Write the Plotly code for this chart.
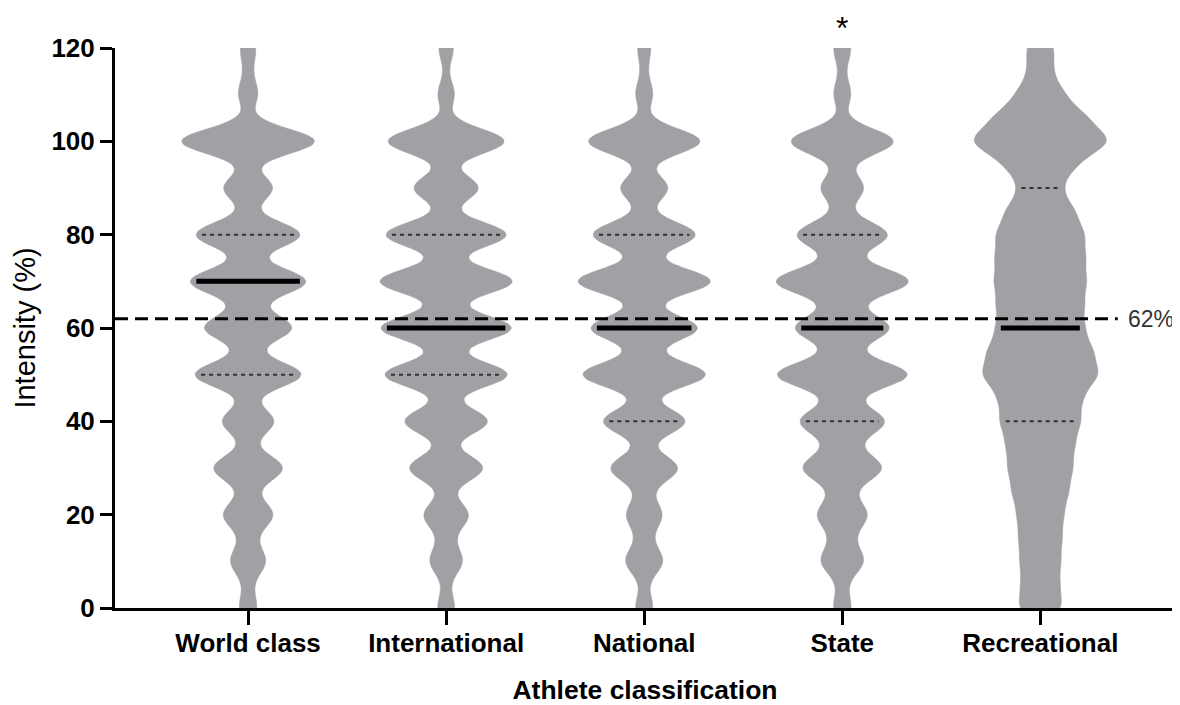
import numpy as np
import plotly.graph_objects as go

# ---------------- data ----------------
categories = ["World class", "International", "National", "State", "Recreational"]

# intensity levels (%) at which responses were given
levels = list(range(0, 125, 5))

# estimated number of responses at each level (0, 5, 10, ... 120)
counts_world_class   = [8, 3, 16, 5, 23, 4, 33, 2, 25, 1, 52, 2, 42, 5, 56, 2, 51, 1, 24, 0, 66, 0, 9, 3, 7]
counts_international = [8, 2, 15, 5, 21, 2, 36, 1, 41, 0, 61, 0, 65, 0, 66, 0, 60, 0, 32, 0, 58, 0, 8, 1, 7]
counts_national      = [8, 2, 17, 5, 16, 4, 32, 1, 40, 0, 60, 2, 52, 0, 65, 1, 50, 1, 23, 0, 55, 0, 8, 2, 6]
counts_state         = [8, 3, 19, 8, 22, 7, 36, 9, 39, 6, 62, 6, 44, 7, 63, 6, 43, 3, 20, 3, 50, 0, 8, 2, 8]
counts_recreational  = [17, 14, 15, 16, 17, 21, 24, 25, 30, 30, 44, 39, 32, 32, 34, 33, 33, 26, 15, 26, 54, 35, 18, 9, 11]

medians = [70, 60, 60, 60, 60]
q1 = [50, 50, 40, 40, 40]
q3 = [80, 80, 80, 80, 90]

reference_value = 62
reference_label = "62%"
significant = ["State"]

y_ticks = [0, 20, 40, 60, 80, 100, 120]

# ---------------- style ----------------
BW = 2.7            # KDE bandwidth
VIOLIN_W = 0.667    # full violin width (category units)
INSET = 0.03        # quartile lines stop a little inside the outline
GREY = "#a1a1a5"
FONT = "Liberation Sans, Arial, sans-serif"

all_counts = [counts_world_class, counts_international, counts_national,
              counts_state, counts_recreational]


def half_width(samples, y):
    """Violin half-width at value y, same Gaussian KDE / scaling as plotly's violin."""
    s0, s1 = samples.min(), samples.max()
    n = int(np.ceil((s1 - s0) / (BW / 3.0)))
    grid = np.linspace(s0, s1, n + 1)

    def kde(t):
        t = np.atleast_1d(np.asarray(t, dtype=float))
        return np.exp(-0.5 * ((t[:, None] - samples[None, :]) / BW) ** 2).sum(axis=1)

    return (VIOLIN_W / 2.0) * kde(y)[0] / kde(grid).max()


fig = go.Figure()

for i, (cat, counts) in enumerate(zip(categories, all_counts)):
    samples = np.repeat(np.array(levels, dtype=float), counts)
    fig.add_trace(go.Violin(
        x0=i, y=samples, name=cat,
        bandwidth=BW, spanmode="hard", scalemode="width", scalegroup=cat,
        width=VIOLIN_W, side="both", points=False,
        box_visible=False, meanline_visible=False,
        fillcolor=GREY, line=dict(color=GREY, width=0.5),
        opacity=1, hoverinfo="skip", showlegend=False,
    ))

    # quartiles (dotted) and median (thick)
    for val, style in [(q1[i], "q"), (q3[i], "q"), (medians[i], "m")]:
        hw = half_width(samples, val) - INSET
        if style == "m":
            line = dict(color="black", width=5)
        else:
            line = dict(color="#333333", width=2, dash="4px,4px")
        fig.add_trace(go.Scatter(
            x=[i - hw, i + hw], y=[val, val], mode="lines", line=line,
            hoverinfo="skip", showlegend=False,
        ))

# reference line at 62 %
fig.add_shape(type="line", xref="paper", yref="y", x0=0, x1=0.946,
              y0=reference_value, y1=reference_value,
              line=dict(color="black", width=3, dash="13px,7px"), layer="above")
fig.add_annotation(xref="paper", yref="y", x=0.9545, y=reference_value,
                   xanchor="left", yanchor="middle", text=reference_label,
                   showarrow=False, borderpad=0,
                   font=dict(family=FONT, size=23, color="#333333"))

# significance marker
for cat in significant:
    fig.add_annotation(xref="x", yref="paper", x=categories.index(cat), y=1.035,
                       xanchor="center", yanchor="middle", text="*", showarrow=False,
                       borderpad=0, font=dict(family=FONT, size=32, color="black"))

# the page body adds an 8px offset, so the figure is 8px smaller than the window
fig.update_layout(
    width=1172, height=697,
    margin=dict(l=107, r=5, t=40, b=97),
    paper_bgcolor="white", plot_bgcolor="white",
    violinmode="overlay",
    font=dict(family=FONT, color="black"),
    xaxis=dict(
        type="linear", range=[-0.672, 4.68],
        tickmode="array", tickvals=list(range(len(categories))), ticktext=categories,
        showline=True, linecolor="black", linewidth=3,
        ticks="outside", ticklen=14, tickwidth=3, tickcolor="black",
        ticklabelstandoff=-4,
        showgrid=False, zeroline=False, automargin=False,
        tickfont=dict(family=FONT, size=26, color="black", weight="bold"),
        title=dict(text="Athlete classification", standoff=30,
                   font=dict(family=FONT, size=26.5, color="black", weight="bold")),
    ),
    yaxis=dict(
        range=[0, 120], tickmode="array", tickvals=y_ticks,
        showline=True, linecolor="black", linewidth=3,
        ticks="outside", ticklen=12, tickwidth=3, tickcolor="black",
        ticklabelstandoff=0,
        showgrid=False, zeroline=False, automargin=False,
        tickfont=dict(family=FONT, size=26, color="black", weight="bold"),
        title=dict(text="Intensity (%)", standoff=8,
                   font=dict(family=FONT, size=29, color="black")),
    ),
)

fig.write_html("out.html")
